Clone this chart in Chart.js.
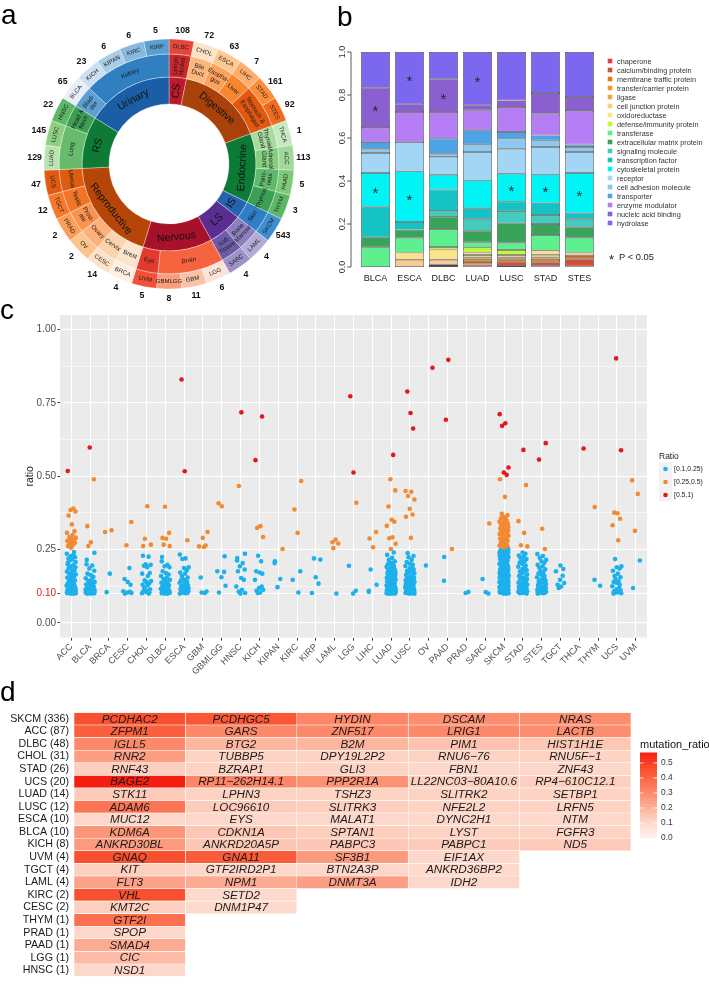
<!DOCTYPE html>
<html><head><meta charset="utf-8">
<script src="https://cdn.jsdelivr.net/npm/chart.js@4.4.1/dist/chart.umd.min.js"></script>
<style>
html,body{margin:0;padding:0;background:#fff}
body{width:709px;height:988px;position:relative;overflow:hidden;font-family:"Liberation Sans",Arial,Helvetica,sans-serif}
canvas{position:absolute}
.pl{position:absolute;font-size:28px;line-height:28px;color:#000}
</style></head><body>
<canvas id="ca" width="340" height="330" style="left:0;top:0"></canvas>
<canvas id="cb" width="389" height="300" style="left:320px;top:0"></canvas>
<canvas id="cc" width="709" height="390" style="left:0;top:300px"></canvas>
<canvas id="cd" width="709" height="288" style="left:0;top:700px"></canvas>
<div class="pl" style="left:1px;top:1px">a</div>
<div class="pl" style="left:337px;top:3px">b</div>
<div class="pl" style="left:0px;top:296px">c</div>
<div class="pl" style="left:0px;top:678px">d</div>
<script>
// ================= DATA =================
// ---- panel a ----
const cancerTypes = ['DLBC','CHOL','ESCA','LIHC','STAD','STES','THCA','ACC','PAAD','THYM','SKCM','LAML','SARC','LGG','GBM','GBMLGG','UVM','BRCA','CESC','OV','PRAD','TGCT','UCS','LUAD','LUSC','HNSC','BLCA','KICH','KIPAN','KIRC','KIRP'];
const cancerSectors = [1,1,1,1,1,1,1,1,1,1,1,1,1,1,1,1,1,1,1,1,1,1,1,1,1,1,1,1,1,1,1];
const sampleCounts = [108,72,63,7,161,92,1,113,5,3,543,4,4,6,11,8,5,4,14,2,2,12,47,129,145,22,65,23,6,6,5];
const organs = ['Lymph\nNodes','Bile\nDuct','Esopha-\ngus','Liver','Stomach &\nEsophagus','Thyroid\nGland','Adrenal\nGland','Panc-\nreas','Thymus','Skin','Bone\nMarrow','Soft\nTissue','Brain','Eye','Brest','Cervix','Ovary','Prost-\nate','Testis','Uterus','Lung','Head &\nNeck','Blad-\nder','Kidney'];
const organSectors = [1,1,1,1,2,1,1,1,1,1,1,1,3,1,1,1,1,1,1,1,2,1,1,4];
const systems = ['CS','Digestive','Endocrine','IS','LS','Nervous','Reproductive','RS','Urinary'];
const systemSectors = [1,5,4,1,2,4,6,3,5];

// ---- panel b ----
const bCats = ['BLCA','ESCA','DLBC','LUAD','LUSC','STAD','STES'];
const proteinClasses = ['chaperone','calcium/binding protein','membrane traffic protein','transfer/carrier protein','ligase','cell junction protein','oxidoreductase','defense/immunity protein','transferase','extracellular matrix protein','signaling molecule','transcription factor','cytoskeletal protein','receptor','cell adhesion molecule','transporter','enzyme modulator','nucleic acid binding','hydrolase'];
const fracBLCA = [0,0,0,0,0,0,0,0,0.092,0.046,0,0.140,0.159,0.093,0.020,0.031,0.066,0.187,0.166];
const fracESCA = [0,0,0,0,0,0.034,0.033,0,0.069,0.038,0,0.035,0.236,0.136,0,0,0.140,0.036,0.243];
const fracDLBC = [0,0,0,0.005,0.006,0.023,0.047,0.012,0.084,0.056,0.028,0.099,0.069,0.083,0.015,0.070,0.124,0.152,0.127];
const fracLUAD = [0.003,0.009,0.011,0.010,0.012,0.011,0.011,0.023,0.025,0.054,0.053,0.051,0.130,0.132,0.036,0.065,0.093,0.023,0.248];
const fracLUSC = [0.005,0.020,0.011,0.009,0,0.011,0,0.023,0.034,0.090,0.057,0.044,0.130,0.116,0.047,0.031,0.116,0.031,0.225];
const fracSTAD = [0.004,0.018,0.011,0,0.012,0.012,0.019,0,0.073,0.051,0.042,0.054,0.135,0.127,0.031,0.023,0.101,0.096,0.191];
const fracSTES = [0.003,0.033,0.015,0,0,0.016,0,0,0.069,0.049,0.037,0.031,0.184,0.098,0.023,0.012,0.156,0.065,0.209];
const starMarks = [['BLCA','nucleic acid binding'],['BLCA','cytoskeletal protein'],['ESCA','hydrolase'],['ESCA','cytoskeletal protein'],['DLBC','nucleic acid binding'],['LUAD','hydrolase'],['LUSC','cytoskeletal protein'],['STAD','cytoskeletal protein'],['STES','cytoskeletal protein']];

// ---- panel c ----
const cTypes = ['ACC','BLCA','BRCA','CESC','CHOL','DLBC','ESCA','GBM','GBMLGG','HNSC','KICH','KIPAN','KIRC','KIRP','LAML','LGG','LIHC','LUAD','LUSC','OV','PAAD','PRAD','SARC','SKCM','STAD','STES','TGCT','THCA','THYM','UCS','UVM'];
const ratioACC = [0.518,0.390,0.385,0.380,0.366,0.336,0.313,0.307,0.300,0.293,0.290,0.287,0.284,0.280,0.279,0.275,0.273,0.270,0.267,0.262,0.256,0.242,0.236,0.232,0.228,0.224,0.220,0.216,0.212,0.208,0.205,0.200,0.197,0.193,0.190,0.186,0.182,0.178,0.175,0.171,0.168,0.165,0.161,0.158,0.155,0.151,0.148,0.145,0.142,0.139,0.136,0.133,0.130,0.128,0.126,0.124,0.122,0.120,0.118,0.116,0.115,0.113,0.112,0.110,0.109,0.108,0.107,0.106,0.105,0.104,0.103,0.102,0.101,0.100,0.100,0.101,0.103,0.105,0.107,0.109,0.111,0.114,0.117,0.121,0.127,0.134];
const ratioBLCA = [0.598,0.490,0.330,0.275,0.262,0.239,0.215,0.200,0.196,0.186,0.178,0.168,0.163,0.157,0.152,0.147,0.143,0.140,0.137,0.134,0.131,0.129,0.127,0.125,0.123,0.121,0.119,0.117,0.115,0.114,0.112,0.111,0.110,0.109,0.108,0.107,0.106,0.105,0.104,0.103,0.102,0.101,0.100,0.100,0.101,0.103,0.105,0.108,0.112,0.118];
const ratioBRCA = [0.316,0.310,0.168,0.105];
const ratioCESC = [0.344,0.265,0.187,0.150,0.140,0.130,0.108,0.106,0.104,0.102,0.100];
const ratioCHOL = [0.398,0.287,0.267,0.262,0.229,0.226,0.200,0.198,0.195,0.190,0.170,0.168,0.160,0.145,0.143,0.140,0.135,0.130,0.128,0.120,0.115,0.112,0.110,0.108,0.105,0.103,0.101,0.100];
const ratioDLBC = [0.396,0.307,0.290,0.287,0.267,0.262,0.225,0.210,0.198,0.193,0.190,0.176,0.170,0.165,0.160,0.155,0.150,0.147,0.143,0.140,0.137,0.134,0.130,0.128,0.126,0.124,0.122,0.120,0.118,0.116,0.114,0.112,0.110,0.108,0.106,0.104,0.103,0.102,0.101,0.100,0.100,0.105];
const ratioESCA = [0.830,0.517,0.282,0.233,0.220,0.218,0.190,0.187,0.180,0.172,0.168,0.160,0.155,0.150,0.147,0.145,0.142,0.140,0.137,0.134,0.130,0.128,0.125,0.122,0.120,0.118,0.116,0.114,0.112,0.110,0.108,0.106,0.104,0.102,0.100,0.101,0.103];
const ratioGBM = [0.310,0.290,0.264,0.261,0.259,0.155,0.107,0.104,0.102];
const ratioGBMLGG = [0.408,0.398,0.227,0.176,0.174,0.156,0.127,0.104];
const ratioHNSC = [0.718,0.467,0.236,0.221,0.213,0.204,0.193,0.182,0.176,0.153,0.147,0.124,0.113,0.107,0.102,0.100];
const ratioKICH = [0.704,0.555,0.330,0.324,0.293,0.229,0.210,0.176,0.172,0.168,0.147,0.124,0.119,0.113,0.110,0.104,0.102];
const ratioKIPAN = [0.252,0.210,0.204,0.150,0.122];
const ratioKIRC = [0.484,0.387,0.307,0.176,0.147,0.104];
const ratioKIRP = [0.220,0.216,0.156,0.134,0.102];
const ratioLAML = [0.284,0.275,0.271,0.255,0.100];
const ratioLGG = [0.773,0.513,0.410,0.195,0.110,0.100];
const ratioLIHC = [0.310,0.288,0.258,0.182,0.130,0.110,0.106];
const ratioLUAD = [0.573,0.490,0.452,0.397,0.352,0.345,0.331,0.292,0.289,0.270,0.252,0.240,0.232,0.222,0.215,0.210,0.207,0.204,0.200,0.197,0.194,0.191,0.188,0.185,0.182,0.180,0.177,0.175,0.172,0.170,0.168,0.166,0.164,0.162,0.160,0.158,0.156,0.154,0.152,0.150,0.148,0.146,0.144,0.142,0.140,0.139,0.137,0.135,0.134,0.132,0.131,0.129,0.128,0.126,0.125,0.124,0.122,0.121,0.120,0.119,0.118,0.117,0.116,0.115,0.114,0.113,0.112,0.111,0.110,0.110,0.109,0.108,0.108,0.107,0.106,0.106,0.105,0.104,0.104,0.103,0.103,0.102,0.102,0.101,0.101,0.100,0.100,0.100,0.101,0.102,0.103,0.105,0.107,0.109,0.112,0.115];
const ratioLUSC = [0.789,0.716,0.663,0.450,0.447,0.433,0.421,0.389,0.370,0.362,0.290,0.238,0.228,0.224,0.215,0.208,0.202,0.198,0.194,0.190,0.186,0.182,0.178,0.175,0.172,0.169,0.166,0.163,0.160,0.158,0.155,0.153,0.150,0.148,0.146,0.144,0.142,0.140,0.138,0.136,0.134,0.132,0.130,0.128,0.127,0.125,0.124,0.122,0.121,0.120,0.118,0.117,0.116,0.115,0.114,0.113,0.112,0.111,0.110,0.109,0.108,0.107,0.106,0.105,0.104,0.103,0.102,0.101,0.100,0.100,0.101,0.102,0.103,0.104,0.106,0.108,0.110,0.113,0.116,0.120,0.125,0.130,0.136];
const ratioOV = [0.870,0.196];
const ratioPAAD = [0.897,0.693,0.252,0.225,0.144];
const ratioPRAD = [0.106,0.102];
const ratioSARC = [0.339,0.150,0.105,0.100];
const ratioSKCM = [0.712,0.681,0.672,0.530,0.513,0.505,0.490,0.430,0.372,0.368,0.364,0.360,0.356,0.352,0.348,0.345,0.342,0.340,0.339,0.336,0.333,0.330,0.327,0.324,0.321,0.320,0.318,0.315,0.312,0.309,0.306,0.303,0.300,0.300,0.297,0.294,0.291,0.288,0.285,0.282,0.280,0.279,0.276,0.273,0.270,0.267,0.264,0.261,0.260,0.258,0.255,0.252,0.250,
 0.249,0.247,0.245,0.243,0.241,0.239,0.237,0.235,0.233,0.231,0.229,0.227,0.225,0.223,0.221,0.219,0.217,0.215,0.213,0.211,0.209,0.207,0.205,0.203,0.201,0.199,0.197,0.195,0.193,0.191,0.189,0.187,0.185,0.183,0.181,0.179,0.177,0.175,0.173,0.171,0.169,0.167,0.165,0.163,0.161,0.159,0.157,0.155,0.153,0.151,0.149,0.147,0.145,0.143,0.141,0.139,0.137,0.135,0.133,0.131,0.129,0.127,0.125,0.123,0.121,0.119,0.117,0.115,0.113,0.111,0.109,0.107,0.105,0.103,0.101,
 0.100,0.102,0.104,0.106,0.108,0.110,0.112,0.114,0.116,0.118,0.120,0.122,0.124,0.126,0.128,0.130,0.132,0.134,0.136,0.138,0.140,0.142,0.144,0.146,0.148,0.150,0.152,0.154,0.156,0.158,0.160,0.165,0.170,0.175,0.180,0.185,0.190,0.195,0.200,0.210,0.220,0.230,0.240,0.100,0.101,0.103,0.105,0.107,0.110,0.113,0.116,0.120,0.125,0.130,0.140,0.150];
const ratioSTAD = [0.590,0.470,0.347,0.307,0.265,0.261,0.240,0.236,0.230,0.226,0.222,0.218,0.214,0.210,0.205,0.200,0.196,0.192,0.188,0.184,0.180,0.176,0.172,0.168,0.165,0.162,0.159,0.156,0.153,0.150,0.147,0.144,0.141,0.138,0.135,0.132,0.130,0.128,0.126,0.124,0.122,0.120,0.118,0.116,0.114,0.112,0.110,0.108,0.106,0.104,0.102,0.100,0.101,0.103,0.105,0.108,0.111,0.115,0.119,0.125];
const ratioSTES = [0.613,0.557,0.321,0.252,0.235,0.228,0.222,0.215,0.210,0.205,0.198,0.193,0.188,0.183,0.178,0.173,0.168,0.164,0.160,0.156,0.152,0.148,0.145,0.142,0.139,0.136,0.133,0.130,0.127,0.125,0.122,0.120,0.118,0.116,0.114,0.112,0.110,0.108,0.106,0.104,0.102,0.100,0.101,0.103,0.106,0.110,0.115,0.121];
const ratioTGCT = [0.196,0.184,0.176,0.161,0.147,0.136,0.130,0.124,0.119];
const ratioTHCA = [0.595];
const ratioTHYM = [0.395,0.147,0.127];
const ratioUCS = [0.902,0.589,0.376,0.374,0.355,0.333,0.282,0.218,0.193,0.190,0.186,0.178,0.168,0.160,0.156,0.150,0.142,0.140,0.136,0.130,0.125,0.120,0.115,0.111,0.108,0.105,0.103,0.101,0.100];
const ratioUVM = [0.486,0.440,0.314,0.213,0.119];
const ratioBins = ['[0.1,0.25)','[0.25,0.5)','[0.5,1)'];
const ratioBreaks = [0.1,0.25,0.5,1];
const yMajorTicks = [0,0.1,0.25,0.5,0.75,1];
const yMinorTicks = [0.125,0.375,0.625,0.875];

// ---- panel d ----
const heatRows = ['SKCM (336)','ACC (87)','DLBC (48)','CHOL (31)','STAD (26)','UCS (20)','LUAD (14)','LUSC (12)','ESCA (10)','BLCA (10)','KICH (8)','UVM (4)','TGCT (4)','LAML (4)','KIRC (2)','CESC (2)','THYM (1)','PRAD (1)','PAAD (1)','LGG (1)','HNSC (1)'];
const geneCol1 = ['PCDHAC2','ZFPM1','IGLL5','RNR2','RNF43','BAGE2','STK11','ADAM6','MUC12','KDM6A','ANKRD30BL','GNAQ','KIT','FLT3','VHL','KMT2C','GTF2I','SPOP','SMAD4','CIC','NSD1'];
const ratioCol1 = [0.46,0.42,0.30,0.25,0.13,0.57,0.14,0.36,0.11,0.27,0.26,0.46,0.13,0.24,0.46,0.13,0.37,0.11,0.22,0.18,0.11];
const geneCol2 = ['PCDHGC5','GARS','BTG2','TUBBP5','BZRAP1','RP11\u2212262H14.1','LPHN3','LOC96610','EYS','CDKN1A','ANKRD20A5P','GNA11','GTF2IRD2P1','NPM1','SETD2','DNM1P47',null,null,null,null,null];
const ratioCol2 = [0.44,0.30,0.19,0.12,0.12,0.31,0.12,0.14,0.11,0.15,0.15,0.43,0.11,0.22,0.10,0.10,null,null,null,null,null];
const geneCol3 = ['HYDIN','ZNF517','B2M','DPY19L2P2','GLI3','PPP2R1A','TSHZ3','SLITRK3','MALAT1','SPTAN1','PABPC3','SF3B1','BTN2A3P','DNMT3A',null,null,null,null,null,null,null];
const ratioCol3 = [0.31,0.30,0.19,0.12,0.12,0.28,0.12,0.13,0.11,0.13,0.15,0.26,0.11,0.25,null,null,null,null,null,null,null];
const geneCol4 = ['DSCAM','LRIG1','PIM1','RNU6\u221276','FBN1','LL22NC03\u221280A10.6','SLITRK2','NFE2L2','DYNC2H1','LYST','PABPC1','EIF1AX','ANKRD36BP2','IDH2',null,null,null,null,null,null,null];
const ratioCol4 = [0.29,0.30,0.16,0.12,0.11,0.13,0.12,0.12,0.11,0.12,0.14,0.11,0.10,0.11,null,null,null,null,null,null,null];
const geneCol5 = ['NRAS','LACTB','HIST1H1E','RNU5F\u22121','ZNF43','RP4\u2212610C12.1','SETBP1','LRFN5','NTM','FGFR3','ND5',null,null,null,null,null,null,null,null,null,null];
const ratioCol5 = [0.29,0.29,0.15,0.12,0.11,0.13,0.12,0.12,0.11,0.12,0.14,null,null,null,null,null,null,null,null,null,null];
const colorbarTicks = [0,0.1,0.2,0.3,0.4,0.5];
const colorbarMax = 0.57;

// ================= STYLE =================
const FONT = '"Liberation Sans", Arial, Helvetica, sans-serif';
Chart.defaults.font.family = FONT;
Chart.defaults.animation = false;
Chart.defaults.responsive = false;
Chart.defaults.plugins.legend.display = false;
Chart.defaults.plugins.tooltip.enabled = false;

const cancerColors = ['#e8453c','#fde3c8','#fdc892','#fdae6b','#fc8d3c','#f26b1d','#c7e9c0','#a1d99b','#7fca78','#5cb868','#3d8fd0','#b3acd6','#9a92c9','#fde4d6','#fcc2a8','#fb9c7c','#f2503a','#fff0e2','#fee2c8','#fdc48e','#fc9e58','#f5782c','#e25a10','#b9e3b0','#8ed081','#5cb868','#e6eef8','#cddff0','#aacde6','#86b9dd','#5a9fd2'];
const organColors = ['#c8282b','#fdb77a','#fda25a','#f8862f','#e3580f','#a8dba0','#86cd7e','#5fb96a','#3c9f55','#2f7fc7','#8c7fc0','#6f5aa8','#f5643f','#e33a2e','#fde4cc','#fdd3ae','#fdb07a','#fb9350','#f27427','#dd5c10','#67bb6b','#3e9e53','#5d9fd3','#2f7fc1'];
const systemColors = ['#bb1a2c','#a8420a','#0d7a36','#2563b0','#5a2d92','#a8112a','#b54608','#0d7a36','#1c5ea6'];
const classColors = ['#e8413c','#cf513c','#e8731f','#f0a020','#e2b048','#f7c993','#fbe38a','#c6f53e','#5ef08f','#3aa35a','#43cbbb','#15c2c4','#00f3f5','#a3d6f4','#8cc8f0','#4da3e6','#b67ef4','#8a5fd0','#7b68ee'];
const binColors = ['#1cb0ec','#f28a32','#e3171d'];
const jitterPattern = [-0.19,0.11,-0.04,0.22,-0.14,0.03,0.17,-0.23,0.07,-0.10,0.24,-0.01,0.14,-0.21,0.05,-0.12,0.19,-0.07,0.09,-0.17,0.00,0.15,-0.24,0.12,-0.02,0.20,-0.15,0.04,-0.09,0.23,-0.18];
const heatStops = [[0,[255,243,238]],[0.11,[253,215,201]],[0.30,[252,138,106]],[0.46,[249,80,47]],[0.58,[244,25,14]]];
function heatColor(v){
  if (v <= heatStops[0][0]) return 'rgb(' + heatStops[0][1].join(',') + ')';
  for (let i = 1; i < heatStops.length; i++) {
    if (v <= heatStops[i][0]) {
      const a = heatStops[i-1], b = heatStops[i];
      const t = (v - a[0]) / (b[0] - a[0]);
      const c = a[1].map((x, k) => Math.round(x + (b[1][k] - x) * t));
      return 'rgb(' + c.join(',') + ')';
    }
  }
  return 'rgb(' + heatStops[heatStops.length-1][1].join(',') + ')';
}

// ================= PANEL A =================
function normDeg(d){ d %= 360; if (d < 0) d += 360; return d; }
const ringPlugin = {
  id: 'ringLabels',
  afterDatasetsDraw(chart) {
    const ctx = chart.ctx;
    const rings = [
      {ds: 0, texts: cancerTypes, size: 6, lh: 7, radial: [], color: '#222'},
      {ds: 1, texts: organs, size: 6.2, lh: 6.6, radial: [0], color: '#1a1a1a'},
      {ds: 2, texts: systems, size: 10.5, lh: 12, radial: [0], color: '#111'}
    ];
    rings.forEach(rg => {
      const meta = chart.getDatasetMeta(rg.ds);
      meta.data.forEach((arc, i) => {
        const p = arc.getProps(['x','y','startAngle','endAngle','innerRadius','outerRadius'], true);
        const mid = (p.startAngle + p.endAngle) / 2;
        const r = (p.innerRadius + p.outerRadius) / 2;
        const cx = p.x + r * Math.cos(mid), cy = p.y + r * Math.sin(mid);
        const theta = normDeg(mid * 180 / Math.PI + 90);
        let rot;
        if (rg.radial.includes(i)) rot = theta <= 180 ? theta - 90 : theta - 270;
        else rot = (theta <= 90 || theta >= 270) ? theta : theta - 180;
        ctx.save();
        ctx.translate(cx, cy);
        ctx.rotate(rot * Math.PI / 180);
        ctx.font = rg.size + 'px ' + FONT;
        ctx.fillStyle = rg.color;
        ctx.textAlign = 'center';
        ctx.textBaseline = 'middle';
        const lines = rg.texts[i].split('\n');
        lines.forEach((ln, k) => ctx.fillText(ln, 0, (k - (lines.length - 1) / 2) * rg.lh));
        ctx.restore();
      });
    });
    // sample counts outside
    const meta0 = chart.getDatasetMeta(0);
    ctx.save();
    ctx.font = 'bold 8.8px ' + FONT;
    ctx.fillStyle = '#111';
    ctx.textAlign = 'center';
    ctx.textBaseline = 'middle';
    meta0.data.forEach((arc, i) => {
      const p = arc.getProps(['x','y','startAngle','endAngle','outerRadius'], true);
      const mid = (p.startAngle + p.endAngle) / 2;
      const r = p.outerRadius + 9.5;
      ctx.fillText(String(sampleCounts[i]), p.x + r * Math.cos(mid), p.y + r * Math.sin(mid));
    });
    ctx.restore();
  }
};
new Chart(document.getElementById('ca'), {
  type: 'doughnut',
  data: {
    labels: cancerTypes,
    datasets: [
      {data: cancerSectors, backgroundColor: cancerColors, weight: 15},
      {data: organSectors, backgroundColor: organColors, weight: 23},
      {data: systemSectors, backgroundColor: systemColors, weight: 27}
    ]
  },
  options: {
    radius: 125,
    cutout: '48%',
    borderWidth: 0.6,
    borderColor: 'rgba(255,255,255,0.55)',
    layout: {padding: {left: 44, top: 39, right: 46, bottom: 41}}
  },
  plugins: [ringPlugin]
});

// ================= PANEL B =================
const bFracs = [fracBLCA, fracESCA, fracDLBC, fracLUAD, fracLUSC, fracSTAD, fracSTES];
const bDatasets = proteinClasses.map((name, k) => ({
  label: name,
  data: bFracs.map(f => f[k] > 0 ? f[k] : null),
  backgroundColor: classColors[k],
  borderColor: '#4d4d4d',
  borderWidth: 0.7,
  borderSkipped: false,
  barPercentage: 0.853,
  categoryPercentage: 1
}));
const bPlugin = {
  id: 'bExtras',
  afterDraw(chart) {
    const ctx = chart.ctx, ca = chart.chartArea, ys = chart.scales.y;
    ctx.save();
    // axis line + ticks (R base style)
    const ax = ca.left - 7.5;
    ctx.strokeStyle = '#333'; ctx.lineWidth = 0.8;
    ctx.beginPath();
    ctx.moveTo(ax, ys.getPixelForValue(0)); ctx.lineTo(ax, ys.getPixelForValue(1));
    ys.ticks.forEach(t => { const y = ys.getPixelForValue(t.value); ctx.moveTo(ax - 4, y); ctx.lineTo(ax, y); });
    ctx.stroke();
    // stars
    ctx.fillStyle = '#262636';
    ctx.font = '15px ' + FONT;
    ctx.textAlign = 'center'; ctx.textBaseline = 'middle';
    starMarks.forEach(([cat, cls]) => {
      const bar = chart.getDatasetMeta(proteinClasses.indexOf(cls)).data[bCats.indexOf(cat)];
      const p = bar.getProps(['x','y','base'], true);
      ctx.fillText('*', p.x, (p.y + p.base) / 2 + 4);
    });
    // legend
    ctx.textAlign = 'left';
    ctx.font = '7.3px ' + FONT;
    proteinClasses.forEach((name, k) => {
      const y = 61 + 9 * k;
      ctx.fillStyle = classColors[k];
      ctx.fillRect(290 - 2.3, y - 2.3, 4.6, 4.6);
      ctx.fillStyle = '#333';
      ctx.fillText(name, 297, y + 0.5);
    });
    ctx.font = '13px ' + FONT;
    ctx.fillStyle = '#222';
    ctx.fillText('*', 289, 260);
    ctx.font = '9.3px ' + FONT;
    ctx.fillText('P < 0.05', 299, 257);
    ctx.restore();
  }
};
new Chart(document.getElementById('cb'), {
  type: 'bar',
  data: {labels: bCats, datasets: bDatasets},
  options: {
    layout: {padding: {left: 0, top: 52, right: 112.5, bottom: 0}},
    scales: {
      x: {stacked: true, grid: {display: false, drawTicks: false}, border: {display: false},
          ticks: {font: {size: 9}, color: '#222', padding: 6}, afterFit(s){ s.height = 33; }},
      y: {stacked: true, min: 0, max: 1,
          ticks: {stepSize: 0.2, callback: v => v.toFixed(1), minRotation: 90, maxRotation: 90, crossAlign: 'center', padding: 10, font: {size: 9}, color: '#333'},
          grid: {display: false, drawTicks: false}, border: {display: false}, afterFit(s){ s.width = 38.5; }}
    }
  },
  plugins: [bPlugin]
});

// ================= PANEL C =================
const cRatios = [ratioACC,ratioBLCA,ratioBRCA,ratioCESC,ratioCHOL,ratioDLBC,ratioESCA,ratioGBM,ratioGBMLGG,ratioHNSC,ratioKICH,ratioKIPAN,ratioKIRC,ratioKIRP,ratioLAML,ratioLGG,ratioLIHC,ratioLUAD,ratioLUSC,ratioOV,ratioPAAD,ratioPRAD,ratioSARC,ratioSKCM,ratioSTAD,ratioSTES,ratioTGCT,ratioTHCA,ratioTHYM,ratioUCS,ratioUVM];
const cDatasets = ratioBins.map((lab, k) => ({label: lab, data: [], backgroundColor: binColors[k], pointRadius: 2.3, pointBorderWidth: 0, pointHoverRadius: 2.3}));
let jn = 0;
cRatios.forEach((arr, i) => arr.forEach(v => {
  let k = 0;
  for (let b = 0; b < ratioBins.length; b++) if (v >= ratioBreaks[b]) k = b;
  cDatasets[k].data.push({x: i + jitterPattern[jn++ % jitterPattern.length], y: v});
}));
const cPlugin = {
  id: 'cExtras',
  beforeDraw(chart) {
    const ctx = chart.ctx, ca = chart.chartArea;
    ctx.save(); ctx.fillStyle = '#ebebeb';
    ctx.fillRect(ca.left, ca.top, ca.right - ca.left, ca.bottom - ca.top);
    ctx.restore();
  },
  afterDraw(chart) {
    const ctx = chart.ctx;
    ctx.save();
    ctx.fillStyle = '#222'; ctx.font = '8.5px ' + FONT;
    ctx.textAlign = 'left'; ctx.textBaseline = 'middle';
    ctx.fillText('Ratio', 659, 157);
    ratioBins.forEach((lab, k) => {
      const y = 169 + 13 * k;
      ctx.fillStyle = '#f2f2f2'; ctx.fillRect(659, y - 6.5, 13, 13);
      ctx.fillStyle = binColors[k]; ctx.beginPath(); ctx.arc(665.5, y, 2.3, 0, Math.PI * 2); ctx.fill();
      ctx.fillStyle = '#222'; ctx.font = '6.8px ' + FONT; ctx.fillText(lab, 674, y);
    });
    ctx.restore();
  }
};
new Chart(document.getElementById('cc'), {
  type: 'scatter',
  data: {datasets: cDatasets},
  options: {
    layout: {padding: {left: 0, top: 15, right: 62, bottom: 0}},
    scales: {
      x: {type: 'linear', min: -0.6, max: 30.6,
          afterBuildTicks(s){ s.ticks = cTypes.map((_, i) => ({value: i})); },
          ticks: {autoSkip: false, callback: v => cTypes[v], minRotation: 45, maxRotation: 45, font: {size: 9}, color: '#4d4d4d', padding: 1},
          grid: {color: '#ffffff', lineWidth: 1, tickColor: '#333', tickLength: 3},
          border: {display: false}, afterFit(s){ s.height = 52.4; }},
      y: {min: -0.05, max: 1.05,
          afterBuildTicks(s){ s.ticks = yMajorTicks.concat(yMinorTicks).sort((a,b)=>a-b).map(v => ({value: v})); },
          ticks: {autoSkip: false, callback: v => yMajorTicks.includes(v) ? v.toFixed(2) : '', color: c => (c.tick && c.tick.value === 0.1) ? '#e31a1c' : '#4d4d4d', font: {size: 10}, padding: 1.5},
          grid: {color: '#ffffff', lineWidth: c => (c.tick && yMinorTicks.includes(c.tick.value)) ? 0.5 : 1,
                 tickColor: c => (c.tick && yMinorTicks.includes(c.tick.value)) ? 'rgba(0,0,0,0)' : '#333', tickLength: 2.5},
          border: {display: false},
          title: {display: true, text: 'ratio', font: {size: 10.5}, color: '#222', padding: {top: 24, bottom: 0}},
          afterFit(s){ s.width = 60; }}
    }
  },
  plugins: [cPlugin]
});

// ================= PANEL D =================
const geneCols = [geneCol1, geneCol2, geneCol3, geneCol4, geneCol5];
const ratioCols = [ratioCol1, ratioCol2, ratioCol3, ratioCol4, ratioCol5];
const dDatasets = geneCols.map((genes, c) => ({
  label: 'col' + (c + 1),
  data: genes.map(g => g ? [c, c + 1] : null),
  backgroundColor: ctx => heatColor(ratioCols[c][ctx.dataIndex] || 0),
  borderColor: '#ffffff',
  borderWidth: 0.6,
  borderSkipped: false,
  barPercentage: 1,
  categoryPercentage: 1,
  grouped: false
}));
const dPlugin = {
  id: 'dExtras',
  afterDatasetsDraw(chart) {
    const ctx = chart.ctx;
    ctx.save();
    ctx.font = 'italic 11.7px ' + FONT;
    ctx.fillStyle = '#1a1a1a';
    ctx.textAlign = 'center'; ctx.textBaseline = 'middle';
    geneCols.forEach((genes, c) => {
      const meta = chart.getDatasetMeta(c);
      genes.forEach((g, r) => {
        if (!g) return;
        const p = meta.data[r].getProps(['x','y','base'], true);
        ctx.fillText(g, (p.x + p.base) / 2, p.y + 0.5);
      });
    });
    ctx.restore();
  },
  afterDraw(chart) {
    const ctx = chart.ctx;
    ctx.save();
    ctx.fillStyle = '#111'; ctx.font = '11px ' + FONT;
    ctx.textAlign = 'left'; ctx.textBaseline = 'middle';
    ctx.fillText('mutation_ratio', 640, 45);
    const y0 = 138, pxPer = 150;
    for (let v = 0; v < colorbarMax; v += 0.005) {
      ctx.fillStyle = heatColor(v);
      ctx.fillRect(640, y0 - (v + 0.005) * pxPer, 17, 0.005 * pxPer + 0.6);
    }
    ctx.strokeStyle = '#fff'; ctx.lineWidth = 0.8;
    ctx.font = '8.4px ' + FONT; ctx.fillStyle = '#333';
    colorbarTicks.forEach(v => {
      const y = y0 - v * pxPer;
      if (v > 0) { ctx.beginPath(); ctx.moveTo(640, y); ctx.lineTo(643.5, y); ctx.moveTo(653.5, y); ctx.lineTo(657, y); ctx.stroke(); }
      ctx.fillText(v.toFixed(1), 661, y);
    });
    ctx.restore();
  }
};
new Chart(document.getElementById('cd'), {
  type: 'bar',
  data: {labels: heatRows, datasets: dDatasets},
  options: {
    indexAxis: 'y',
    layout: {padding: {left: 0, top: 12.5, right: 78, bottom: 2.5}},
    scales: {
      x: {type: 'linear', display: false, min: 0, max: 5},
      y: {grid: {display: false, drawTicks: false}, border: {display: false},
          ticks: {autoSkip: false, font: {size: 10.7}, color: '#1a1a1a', padding: 5}, afterFit(s){ s.width = 74; }}
    }
  },
  plugins: [dPlugin]
});
</script>
</body></html>
